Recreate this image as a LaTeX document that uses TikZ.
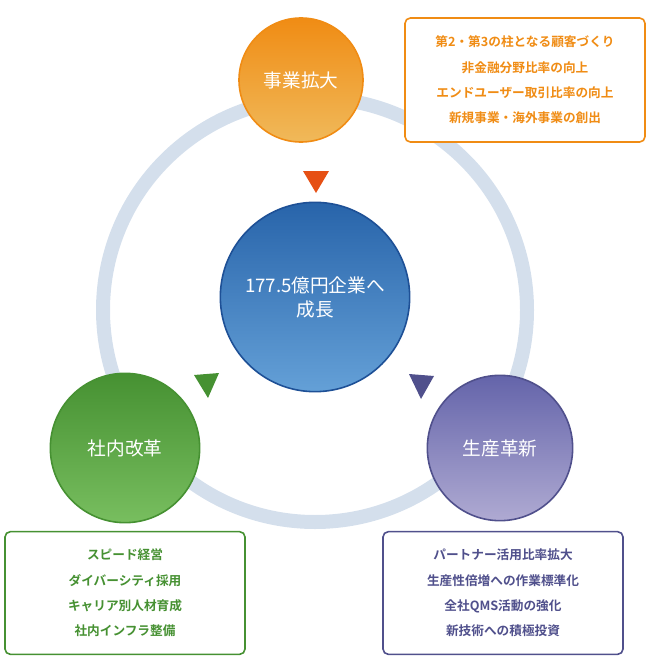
\documentclass[tikz,border=0pt]{standalone}
\usepackage{fontspec}
\setmainfont{Noto Sans CJK JP}[BoldFont={Noto Sans CJK JP Bold}]
\begin{document}
\begin{tikzpicture}[x=0.75pt,y=-0.75pt,
 circ/.style={circle,draw,line width=1.2pt,text=white,font=\fontsize{14}{18}\selectfont,align=center,inner sep=0pt},
 tbox/.style={draw,line width=1.2pt,rounded corners=4pt,fill=white,align=center,font=\bfseries\fontsize{9.5}{19}\selectfont}]
\definecolor{ring}{RGB}{212,223,236}
\definecolor{org}{RGB}{240,140,20}
\definecolor{orgb}{RGB}{240,185,90}
\definecolor{grn}{RGB}{70,145,50}
\definecolor{grnb}{RGB}{120,190,95}
\definecolor{pur}{RGB}{80,80,140}
\definecolor{purt}{RGB}{100,100,170}
\definecolor{purb}{RGB}{175,170,210}
\definecolor{blu}{RGB}{40,100,170}
\definecolor{bluo}{RGB}{30,80,150}
\definecolor{blub}{RGB}{100,160,215}
\definecolor{red1}{RGB}{230,80,20}
\useasboundingbox (0,0) rectangle (650,660);
\draw[ring,line width=10.5pt] (315,310) circle (212);
\node[circ,draw=org,top color=org,bottom color=orgb,minimum size=93pt] (a) at (301,80) {事業拡大};
\node[circ,draw=bluo,top color=blu,bottom color=blub,minimum size=142pt] (c) at (315,297) {177.5億円企業へ\\成長};
\node[circ,draw=grn,top color=grn,bottom color=grnb,minimum size=112pt] (l) at (125,448) {社内改革};
\node[circ,draw=pur,top color=purt,bottom color=purb,minimum size=109pt] (r) at (500,448) {生産革新};
\fill[red1] (303,171)--(329,171)--(316,193)--cycle;
\fill[grn] (194,375)--(219,373)--(208,398)--cycle;
\fill[pur] (409,374)--(434,376)--(421,399)--cycle;
\node[tbox,draw=org,text=org,minimum width=180pt,minimum height=93pt] (ba) at (525,80) {第2・第3の柱となる顧客づくり\\非金融分野比率の向上\\エンドユーザー取引比率の向上\\新規事業・海外事業の創出};
\node[tbox,draw=grn,text=grn,minimum width=180pt,minimum height=92pt] (bl) at (125,593) {スピード経営\\ダイバーシティ採用\\キャリア別人材育成\\社内インフラ整備};
\node[tbox,draw=pur,text=pur,minimum width=180pt,minimum height=92pt] (br) at (503,593) {パートナー活用比率拡大\\生産性倍増への作業標準化\\全社QMS活動の強化\\新技術への積極投資};
\end{tikzpicture}
\end{document}
